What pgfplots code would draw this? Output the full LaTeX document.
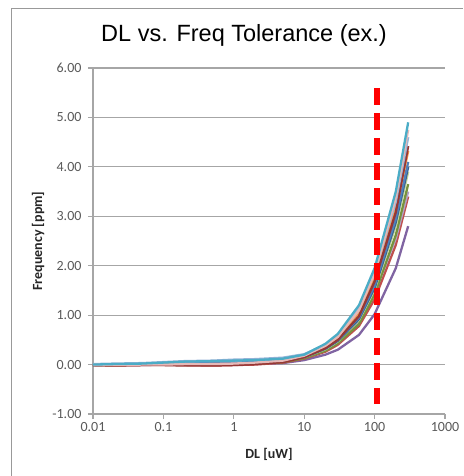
\documentclass[border=0pt]{standalone}
\usepackage{pgfplots}
\pgfplotsset{compat=1.18}
\usepackage{fontspec}
\setmainfont{Carlito}
\newfontfamily\titlefont{Liberation Sans}
\definecolor{cA}{HTML}{4BACC6}
\definecolor{cB}{HTML}{95B3D7}
\definecolor{cC}{HTML}{E6B9B8}
\definecolor{cD}{HTML}{953735}
\definecolor{cE}{HTML}{F79646}
\definecolor{cF}{HTML}{4F81BD}
\definecolor{cG}{HTML}{376092}
\definecolor{cH}{HTML}{C3D69B}
\definecolor{cI}{HTML}{77933C}
\definecolor{cJ}{HTML}{B3A2C7}
\definecolor{cK}{HTML}{C0504D}
\definecolor{cM}{HTML}{8064A2}
\definecolor{gridc}{HTML}{A6A6A6}
\definecolor{tickc}{HTML}{595959}
\begin{document}
\begin{tikzpicture}[x=1pt,y=1pt]
\useasboundingbox (0,0) rectangle (463,476);
\draw[line width=1.2pt, color=gray!80] (11.5,0) -- (11.5,467.5) -- (463,467.5);
\node[font=\titlefont\fontsize{23.5}{26}\selectfont] at (244,441) {DL vs. Freq Tolerance (ex.)};
\begin{axis}[
  at={(93pt,62pt)}, anchor=south west,
  scale only axis, width=352pt, height=346pt,
  xmode=log, xmin=0.01, xmax=1000, ymin=-1, ymax=6,
  xtick={0.01,0.1,1,10,100,1000},
  xticklabels={0.01,0.1,1,10,100,1000},
  xminorticks=false,
  ytick={-1,0,1,2,3,4,5,6},
  axis x line=bottom, axis y line=left,
  axis line style={-, gridc, line width=1.2pt},
  ymajorgrids, grid style={gridc, line width=1.2pt},
  tick align=outside, major tick length=5pt,
  tick style={gridc, line width=1.2pt},
  ticklabel style={font=\fontsize{14}{16}\selectfont, text=tickc},
  yticklabel style={xshift=-3pt, /pgf/number format/.cd, fixed, fixed zerofill, precision=2, assume math mode=true},
  xticklabel style={/pgf/number format/assume math mode=true},
  log ticks with fixed point,
  xlabel={DL [uW]}, ylabel={Frequency [ppm]},
  label style={font=\bfseries\fontsize{14}{16}\selectfont, text=black!85},
  xlabel style={at={(axis description cs:0.5,-0.116)}, anchor=center},
  ylabel style={at={(axis description cs:-0.156,0.5)}, anchor=center},
  every axis plot/.append style={line width=2.3pt, line join=round},
  clip=false,
]
\addplot[cM] coordinates {(0.01,-0.01) (0.02,-0.01) (0.05,-0.01) (0.1,0.00) (0.2,0.00) (0.5,0.00) (1,0.00) (2,0.01) (5,0.03) (10,0.09) (20,0.20) (30,0.30) (60,0.60) (100,1.02) (200,1.95) (300,2.80)};
\addplot[cK] coordinates {(0.01,-0.01) (0.02,-0.02) (0.05,-0.01) (0.1,-0.01) (0.2,-0.01) (0.5,-0.02) (1,-0.01) (2,0.00) (5,0.04) (10,0.12) (20,0.26) (30,0.40) (60,0.78) (100,1.32) (200,2.42) (300,3.40)};
\addplot[cJ] coordinates {(0.01,0.00) (0.02,0.00) (0.05,0.01) (0.1,0.01) (0.2,0.02) (0.5,0.02) (1,0.03) (2,0.04) (5,0.07) (10,0.14) (20,0.29) (30,0.44) (60,0.85) (100,1.45) (200,2.55) (300,3.50)};
\addplot[cI] coordinates {(0.01,-0.01) (0.02,-0.01) (0.05,0.00) (0.1,0.00) (0.2,0.00) (0.5,0.00) (1,0.01) (2,0.02) (5,0.05) (10,0.13) (20,0.28) (30,0.43) (60,0.82) (100,1.42) (200,2.62) (300,3.65)};
\addplot[cH] coordinates {(0.01,0.00) (0.02,0.00) (0.05,0.00) (0.1,0.01) (0.2,0.01) (0.5,0.01) (1,0.02) (2,0.03) (5,0.07) (10,0.15) (20,0.31) (30,0.47) (60,0.90) (100,1.52) (200,2.80) (300,3.90)};
\addplot[cG] coordinates {(0.01,-0.01) (0.02,0.00) (0.05,0.00) (0.1,0.01) (0.2,0.01) (0.5,0.02) (1,0.03) (2,0.04) (5,0.07) (10,0.15) (20,0.32) (30,0.48) (60,0.92) (100,1.55) (200,2.88) (300,4.00)};
\addplot[cF] coordinates {(0.01,0.00) (0.02,0.00) (0.05,0.01) (0.1,0.01) (0.2,0.02) (0.5,0.03) (1,0.04) (2,0.05) (5,0.08) (10,0.16) (20,0.33) (30,0.50) (60,0.95) (100,1.60) (200,2.95) (300,4.10)};
\addplot[cE] coordinates {(0.01,0.00) (0.02,-0.01) (0.05,0.00) (0.1,0.00) (0.2,0.00) (0.5,0.01) (1,0.01) (2,0.03) (5,0.07) (10,0.17) (20,0.36) (30,0.53) (60,1.05) (100,1.75) (200,3.15) (300,4.32)};
\addplot[cD] coordinates {(0.01,-0.01) (0.02,-0.02) (0.05,-0.01) (0.1,-0.01) (0.2,-0.02) (0.5,-0.02) (1,-0.01) (2,0.01) (5,0.05) (10,0.15) (20,0.33) (30,0.50) (60,0.98) (100,1.68) (200,3.08) (300,4.42)};
\addplot[cB] coordinates {(0.01,0.01) (0.02,0.02) (0.05,0.03) (0.1,0.05) (0.2,0.07) (0.5,0.08) (1,0.10) (2,0.11) (5,0.14) (10,0.21) (20,0.40) (30,0.58) (60,1.12) (100,1.85) (200,3.30) (300,4.60)};
\addplot[cC] coordinates {(0.01,0.00) (0.02,-0.01) (0.05,0.00) (0.1,0.00) (0.2,0.01) (0.5,0.01) (1,0.02) (2,0.04) (5,0.08) (10,0.18) (20,0.38) (30,0.56) (60,1.10) (100,1.85) (200,3.38) (300,4.75)};
\addplot[cA] coordinates {(0.01,0.00) (0.02,0.01) (0.05,0.02) (0.1,0.04) (0.2,0.06) (0.5,0.07) (1,0.08) (2,0.09) (5,0.12) (10,0.20) (20,0.42) (30,0.62) (60,1.20) (100,1.95) (200,3.50) (300,4.90)};
\addplot[red, line width=6pt, dash pattern=on 17pt off 8pt, line cap=butt] coordinates {(108,5.6) (108,-0.8)};
\end{axis}
\end{tikzpicture}
\end{document}
